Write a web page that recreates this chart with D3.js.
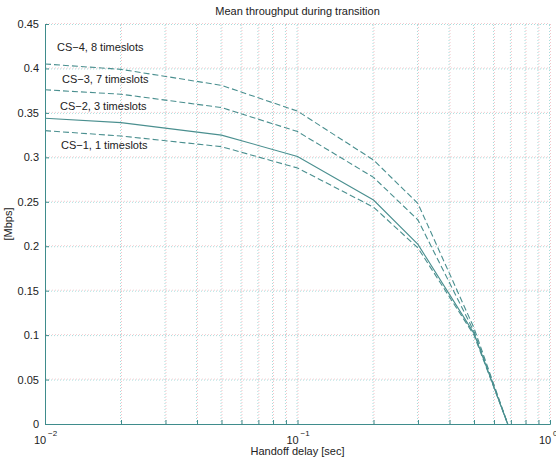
<!DOCTYPE html>
<html>
<head>
<meta charset="utf-8">
<script src="https://cdn.jsdelivr.net/npm/d3@7"></script>
<style>
  body { margin: 0; background: #fff; }
  text { font-family: "Liberation Sans", Arial, sans-serif; fill: #222; }
</style>
</head>
<body>
<script>
// handoff delay [sec] and mean throughput [Mbps]
const delays = [0.01, 0.02, 0.05, 0.1, 0.2, 0.3, 0.5, 0.68];
const cs4 = [0.405, 0.399, 0.381, 0.352, 0.297, 0.248, 0.108, 0];
const cs3 = [0.376, 0.371, 0.356, 0.329, 0.2775, 0.2295, 0.104, 0];
const cs2 = [0.344, 0.339, 0.325, 0.301, 0.252, 0.202, 0.102, 0];
const cs1 = [0.330, 0.324, 0.312, 0.288, 0.244, 0.198, 0.100, 0];
const seriesNames = ["CS\u22124, 8 timeslots", "CS\u22123, 7 timeslots", "CS\u22122, 3 timeslots", "CS\u22121, 1 timeslots"];
const yTicks = [0, 0.05, 0.1, 0.15, 0.2, 0.25, 0.3, 0.35, 0.4, 0.45];
const xDecades = [0.01, 0.1, 1];
const xExps = ["\u22122", "\u22121", "0"];

const w = 556, h = 459;
const mLeft = 45, mRight = 550, mTop = 24, mBottom = 424;

const svg = d3.select("body").append("svg")
  .attr("width", w).attr("height", h);

const x = d3.scaleLog().domain([0.01, 1]).range([mLeft, mRight]);
const y = d3.scaleLinear().domain([0, 0.45]).range([mBottom, mTop]);

// grid (dotted, slightly smeared red/cyan like the scan)
let minor = [];
[0.01, 0.1].forEach(d => { for (let k = 1; k <= 10; k++) minor.push(d * k); });
minor = Array.from(new Set(minor.map(v => +v.toPrecision(3))));

const grid = svg.append("g");
minor.forEach(v => {
  if (v === 0.01) return;
  grid.append("line").attr("x1", x(v) + 0.5).attr("x2", x(v) + 0.5)
    .attr("y1", mTop).attr("y2", mBottom)
    .attr("stroke", "#f2c6ca").attr("stroke-dasharray", "1,2");
  grid.append("line").attr("x1", x(v) - 0.5).attr("x2", x(v) - 0.5)
    .attr("y1", mTop + 1).attr("y2", mBottom)
    .attr("stroke", "#a9dcdc").attr("stroke-dasharray", "1,2");
});
yTicks.forEach(v => {
  if (v === 0) return;
  grid.append("line").attr("x1", mLeft).attr("x2", mRight)
    .attr("y1", y(v) + 0.5).attr("y2", y(v) + 0.5)
    .attr("stroke", "#a9dcdc").attr("stroke-dasharray", "1,2");
  grid.append("line").attr("x1", mLeft + 1).attr("x2", mRight)
    .attr("y1", y(v) - 0.5).attr("y2", y(v) - 0.5)
    .attr("stroke", "#f4ccd0").attr("stroke-dasharray", "1,2");
});

// axes
const axisColor = "#3f8c8c";
const yAxis = svg.append("g").attr("transform", `translate(${mLeft},0)`)
  .call(d3.axisLeft(y).tickValues(yTicks).tickSize(-4).tickFormat(d => d === 0 ? "0" : String(+d.toFixed(2))));
yAxis.select(".domain").attr("stroke", axisColor);
yAxis.selectAll(".tick line").attr("stroke", axisColor);
yAxis.selectAll(".tick text").attr("x", -6).attr("font-size", 11)
  .attr("font-family", "Liberation Sans, Arial, sans-serif").attr("fill", "#222");

const xAxis = svg.append("g").attr("transform", `translate(0,${mBottom})`)
  .call(d3.axisBottom(x).tickValues(minor).tickSize(-4).tickFormat(""));
xAxis.select(".domain").attr("stroke", axisColor);
xAxis.selectAll(".tick line").attr("stroke", axisColor);

// decade labels 10^n
xDecades.forEach((d, i) => {
  svg.append("text").attr("x", x(d) - 5).attr("y", mBottom + 20)
    .attr("font-size", 11).attr("text-anchor", "middle").text("10");
  svg.append("text").attr("x", x(d) + 3).attr("y", mBottom + 12)
    .attr("font-size", 8).attr("text-anchor", "start").text(xExps[i]);
});

// curves
const series = [cs4, cs3, cs2, cs1];
const dashes = ["6,3", "6,3", null, "6,3"];
const line = d3.line().x((d, i) => x(delays[i])).y(d => y(d));
series.forEach((s, i) => {
  svg.append("path").datum(s)
    .attr("d", line)
    .attr("fill", "none")
    .attr("stroke", "#4a8f8f")
    .attr("stroke-width", 1.1)
    .attr("stroke-dasharray", dashes[i]);
});

// curve labels
const labelPos = [[57, 51], [62, 83], [60, 110], [61, 149]];
seriesNames.forEach((n, i) => {
  svg.append("text").attr("x", labelPos[i][0]).attr("y", labelPos[i][1])
    .attr("font-size", 11).text(n);
});

// titles
svg.append("text").attr("x", (mLeft + mRight) / 2).attr("y", 15)
  .attr("text-anchor", "middle").attr("font-size", 11)
  .text("Mean throughput during transition");
svg.append("text").attr("x", (mLeft + mRight) / 2).attr("y", 455)
  .attr("text-anchor", "middle").attr("font-size", 11)
  .text("Handoff delay [sec]");
svg.append("text").attr("transform", `translate(12,${(mTop + mBottom) / 2}) rotate(-90)`)
  .attr("text-anchor", "middle").attr("font-size", 11)
  .text("[Mbps]");
</script>
</body>
</html>
